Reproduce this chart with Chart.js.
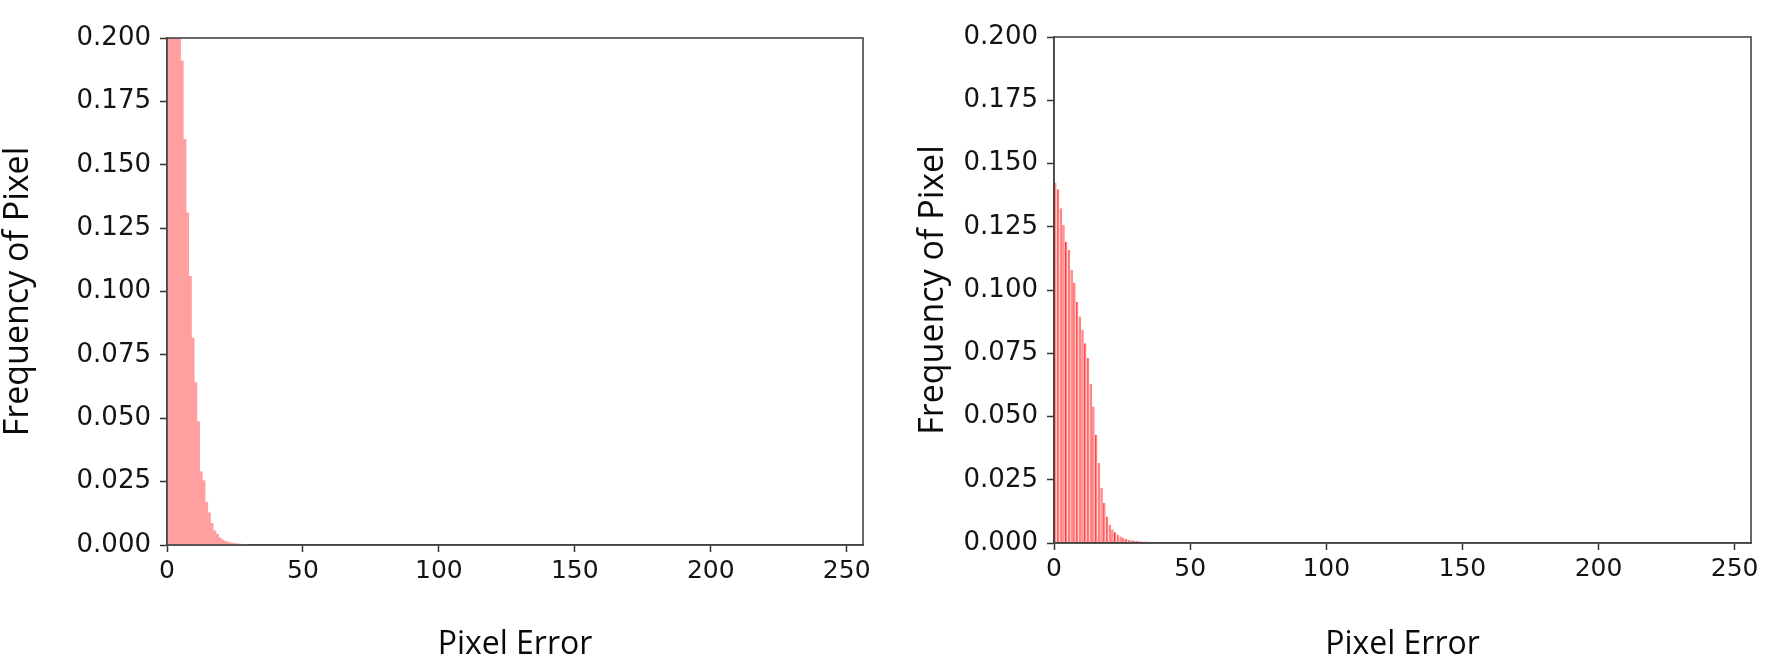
<!DOCTYPE html>
<html>
<head>
<meta charset="utf-8">
<title>Pixel Error histograms</title>
<script src="https://cdn.jsdelivr.net/npm/chart.js@4.4.1/dist/chart.umd.min.js"></script>
<style>
    html, body { margin: 0; padding: 0; background: #ffffff; }
    #page { position: relative; width: 1769px; height: 664px; overflow: hidden; }
    .panel { position: absolute; top: 0; height: 664px; }
    #leftPanel { left: 0; width: 880px; }
    #rightPanel { left: 880px; width: 889px; }
</style>
</head>
<body>
<div id="page">
    <div class="panel" id="leftPanel"><canvas id="chartLeft"></canvas></div>
    <div class="panel" id="rightPanel"><canvas id="chartRight"></canvas></div>
</div>
<script>
// histogram heights per 1-wide bin, starting at bin 0 (bins past the tail are empty)
const leftFreq = [0.225, 0.245, 0.238, 0.222, 0.208, 0.191, 0.160, 0.131, 0.106, 0.0817,
    0.0641, 0.0486, 0.0289, 0.0254, 0.0169, 0.0127, 0.0085, 0.0056, 0.0042, 0.0028,
    0.0020, 0.0015, 0.0011, 0.0008, 0.0006, 0.0005, 0.0004, 0.0003, 0.0002, 0.0002]

const rightFreq = [0.1424, 0.1398, 0.1323, 0.1257, 0.1191, 0.1158, 0.1080, 0.1030, 0.0954, 0.0895,
    0.0843, 0.0790, 0.0731, 0.0629, 0.0540, 0.0428, 0.0316, 0.0217, 0.0158, 0.0105,
    0.0072, 0.0053, 0.0042, 0.0033, 0.0026, 0.0020, 0.0016, 0.0013, 0.0011, 0.0009,
    0.0008, 0.0007, 0.0006, 0.0006, 0.0005, 0.0005, 0.0004, 0.0004, 0.0003, 0.0003,
    0.0002, 0.0002, 0.0002]

const xTicks = [0, 50, 100, 150, 200, 250]
const yTicks = [0, 0.025, 0.05, 0.075, 0.1, 0.125, 0.15, 0.175, 0.2]
const xMax = 256
const yMax = 0.2

const xTitle = 'Pixel Error'
const yTitle = 'Frequency of Pixel'

// draws the top and right spines so the plot is boxed like the original
const frameBox = {
    id: 'frameBox',
    afterDatasetsDraw(chart) {
        const {ctx, chartArea} = chart
        ctx.save()
        ctx.strokeStyle = '#444444'
        ctx.lineWidth = 1.6
        ctx.strokeRect(chartArea.left, chartArea.top, chartArea.right - chartArea.left, chartArea.bottom - chartArea.top)
        ctx.restore()
    }
}

function toPoints(values) {
    return values.map((v, i) => ({x: i + 0.5, y: v}))
}

function makeChart(canvasId, values, look) {
    const ctx = document.getElementById(canvasId).getContext('2d')
    return new Chart(ctx, {
        type: 'bar',
        data: {
            datasets: [{
                data: toPoints(values),
                backgroundColor: look.fill,
                borderColor: look.edge,
                borderWidth: look.edgeWidth,
                borderSkipped: false,
                barPercentage: look.barPct,
                categoryPercentage: 1,
            }]
        },
        options: {
            responsive: true,
            maintainAspectRatio: false,
            animation: false,
            layout: {padding: look.padding},
            plugins: {legend: {display: false}, tooltip: {enabled: false}},
            scales: {
                x: {
                    type: 'linear',
                    min: 0,
                    max: xMax,
                    offset: false,
                    afterBuildTicks: (scale) => { scale.ticks = xTicks.map(v => ({value: v})) },
                    afterFit: (scale) => { scale.height = look.xHeight },
                    ticks: {
                        padding: 4,
                        color: '#141414',
                        font: {family: 'DejaVu Sans', size: 25},
                        maxRotation: 0,
                        callback: (v) => String(v),
                    },
                    grid: {drawOnChartArea: false, offset: false, tickLength: 7, tickWidth: 1.5, color: '#333333'},
                    border: {color: '#444444', width: 1.6},
                    title: {
                        display: true,
                        text: xTitle,
                        color: '#0a0a0a',
                        font: {family: 'Open Sans', size: 32, lineHeight: 1},
                        padding: {top: 0, bottom: 3},
                    },
                },
                y: {
                    min: 0,
                    max: yMax,
                    afterBuildTicks: (scale) => { scale.ticks = yTicks.map(v => ({value: v})) },
                    afterFit: (scale) => { scale.width = look.yWidth },
                    ticks: {
                        padding: 9,
                        color: '#141414',
                        font: {family: 'DejaVu Sans', size: 26},
                        callback: (v) => Number(v).toFixed(3),
                    },
                    grid: {drawOnChartArea: false, tickLength: 7, tickWidth: 1.5, color: '#333333'},
                    border: {color: '#444444', width: 1.6},
                    title: {
                        display: true,
                        text: yTitle,
                        color: '#0a0a0a',
                        font: {family: 'Open Sans', size: 34, lineHeight: 1},
                        padding: {top: look.yTitlePad, bottom: 0},
                    },
                },
            },
        },
        plugins: [frameBox],
    })
}

makeChart('chartLeft', leftFreq, {
    fill: '#ff9f9f',
    edge: '#ff9f9f',
    edgeWidth: 0,
    barPct: 1,
    padding: {left: 0, right: 17, top: 38, bottom: 0},
    xHeight: 119,
    yWidth: 167,
    yTitlePad: 1,
})

makeChart('chartRight', rightFreq, {
    fill: '#ff8282',
    edge: '#ff3636',
    edgeWidth: {left: 1, right: 0, top: 0, bottom: 0},
    barPct: 0.92,
    padding: {left: 0, right: 18, top: 37, bottom: 0},
    xHeight: 121,
    yWidth: 174,
    yTitlePad: 36,
})
</script>
</body>
</html>
